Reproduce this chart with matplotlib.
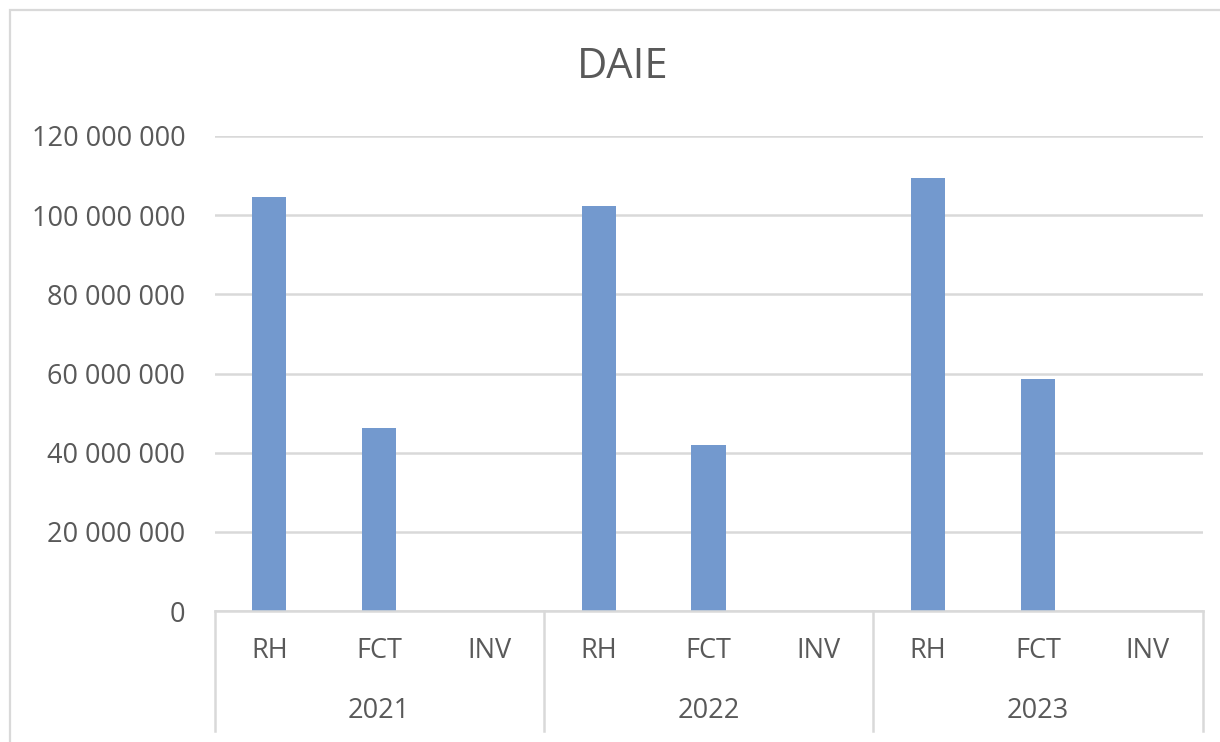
import matplotlib
matplotlib.use("Agg")
import matplotlib.pyplot as plt
from matplotlib.ticker import FuncFormatter
from matplotlib.lines import Line2D
from matplotlib.patches import Rectangle
import matplotlib.transforms as mtransforms

years = ["2021", "2022", "2023"]
subcats = ["RH", "FCT", "INV"]
values = [104.5e6, 46.2e6, 0, 102.4e6, 42.0e6, 0, 109.4e6, 58.7e6, 0]
yticks = [0, 20e6, 40e6, 60e6, 80e6, 100e6, 120e6]
title = "DAIE"

W, H = 1220, 742
fig = plt.figure(figsize=(W / 100, H / 100), dpi=100)
plt.rcParams['font.family'] = ['Open Sans', 'DejaVu Sans']
txt = "#595959"
grid = "#D9D9D9"
bar_c = "#7399CE"

# chart border (left/top visible)
fig.patches.append(Rectangle((10 / W, -0.01), 1.02, 1 - 10 / H + 0.01, transform=fig.transFigure,
                             fill=False, edgecolor=grid, linewidth=1.6, zorder=0))

left, right, top, bottom = 214.5, 1202.5, 136, 611
ax = fig.add_axes([left / W, 1 - bottom / H, (right - left) / W, (bottom - top) / H])
n = len(values)
xs = [i + 0.5 for i in range(n)]
ax.bar(xs, values, width=0.31, color=bar_c, zorder=3)
ax.set_xlim(0, n)
ax.set_ylim(0, 120e6)
ax.set_yticks(yticks)
ax.yaxis.set_major_formatter(FuncFormatter(lambda v, p: f"{int(v):,}".replace(",", " ")))
ax.tick_params(axis='y', length=0, pad=21, labelsize=19.5, labelcolor=txt)
ax.set_xticks([])
ax.grid(axis='y', color=grid, linewidth=1.8, zorder=0)
for s in ["left", "right", "top"]:
    ax.spines[s].set_visible(False)
ax.spines["bottom"].set_color(grid)
ax.spines["bottom"].set_linewidth(1.8)
ax.spines["bottom"].set_zorder(4)

trans = mtransforms.blended_transform_factory(ax.transData, ax.transAxes)
ph = bottom - top
sub_y = -(651 - bottom) / ph
yr_y = -(711 - bottom) / ph
line_bot = -(731 - bottom) / ph
for i, x in enumerate(xs):
    ax.text(x, sub_y, subcats[i % 3], transform=trans, ha='center', va='center',
            fontsize=19.5, color=txt)
for j, yr in enumerate(years):
    ax.text(3 * j + 1.5, yr_y, yr, transform=trans, ha='center', va='center',
            fontsize=19.5, color=txt)
for k in range(len(years) + 1):
    ax.add_line(Line2D([3 * k, 3 * k], [0, line_bot], transform=trans, color=grid,
                       linewidth=1.8, clip_on=False))

fig.text(623 / W, 1 - 67 / H, title, ha='center', va='center', fontsize=30, color=txt)

fig.savefig("out.png", dpi=100, facecolor="white")
